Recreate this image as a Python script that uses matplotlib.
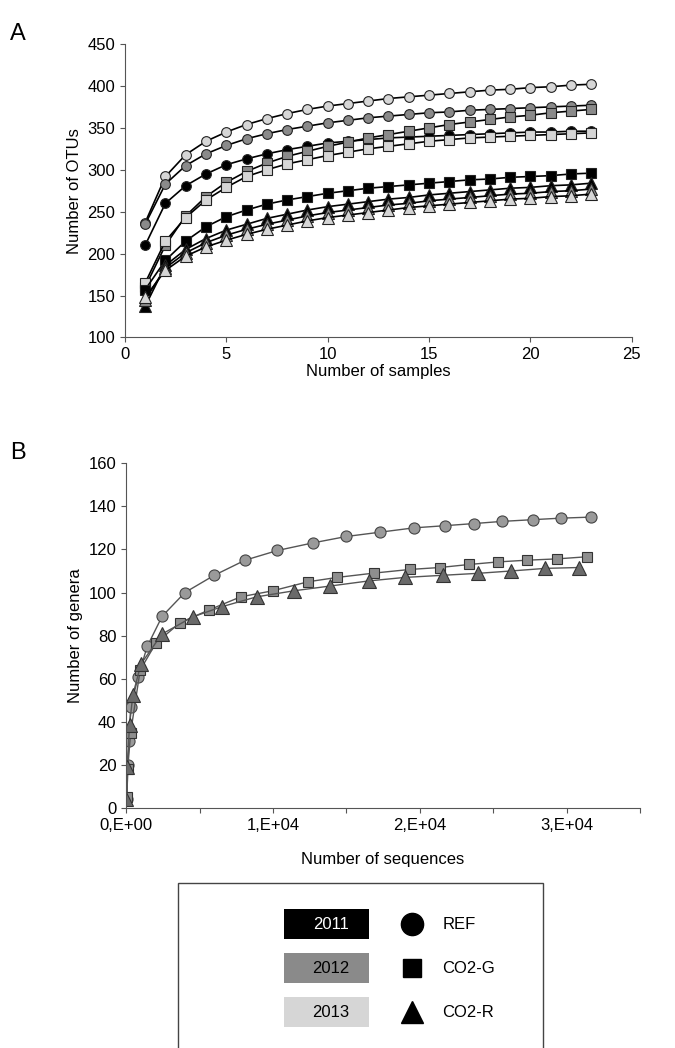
import matplotlib
matplotlib.use("Agg")
import matplotlib.pyplot as plt
from matplotlib.patches import Rectangle
plt.rcParams['font.family'] = ['Liberation Sans', 'DejaVu Sans']

samples = list(range(1, 24))
ref_2013 = [237,292,318,334,345,354,361,367,372,376,379,382,385,387,389,391,393,395,396,398,399,401,402]
ref_2012 = [235,283,305,319,329,337,343,348,352,356,359,362,364,366,368,369,371,372,373,374,375,376,377]
ref_2011 = [210,260,281,295,306,313,319,324,328,332,334,336,338,339,340,341,342,343,344,345,345,346,346]
co2g_2012 = [160,210,245,268,285,298,308,316,322,328,333,338,342,346,350,354,357,360,363,365,368,370,372]
co2g_2013 = [165,215,243,264,279,292,300,307,312,317,321,325,328,331,334,336,338,339,340,341,342,343,344]
co2g_2011 = [157,192,215,232,244,252,259,264,268,272,275,278,280,282,284,286,288,289,291,292,293,295,296]
co2r_2011 = [137,186,205,218,228,235,242,247,252,256,259,262,265,267,270,272,274,276,278,279,281,282,284]
co2r_2012 = [145,183,201,213,222,229,235,240,245,249,252,255,258,260,263,265,267,269,271,272,274,275,277]
co2r_2013 = [148,180,197,208,216,223,229,234,239,243,246,249,252,255,257,259,261,263,265,266,268,269,271]

gen_ref_x = [50,100,200,300,820,1430,2450,4000,6000,8100,10300,12700,15000,17300,19600,21700,23700,25600,27700,29600,31700]
gen_ref_y = [4,20,31,47,61,75,89,100,108,115,119.5,123,126,128,130,131,132,133,133.8,134.5,135]
gen_g_x = [50,100,300,950,2020,3670,5670,7800,9980,12400,14370,16870,19320,21360,23360,25330,27300,29340,31410]
gen_g_y = [5,18,35,64,76.5,86,92,98,100.8,105,107,109,110.7,111.6,113,114.2,115,115.6,116.6]
gen_r_x = [10,60,226,450,1000,2430,4540,6510,8890,11430,13880,16550,18980,21590,23970,26240,28550,30840]
gen_r_y = [4,19,38.5,52.4,66.8,80.7,88.7,93.4,98,100.8,103,105.4,107,108,108.9,110,111.2,111.6]

years = ["2011", "2012", "2013"]
year_colors = ["#000000", "#8a8a8a", "#d6d6d6"]
treatments = ["REF", "CO2-G", "CO2-R"]

fig = plt.figure(figsize=(6.75, 10.48), dpi=100)

axA = fig.add_axes([0.185, 0.678, 0.751, 0.280])
seriesA = [
    (ref_2013, "o", year_colors[2]), (ref_2012, "o", year_colors[1]), (ref_2011, "o", year_colors[0]),
    (co2g_2012, "s", year_colors[1]), (co2g_2013, "s", year_colors[2]), (co2g_2011, "s", year_colors[0]),
    (co2r_2011, "^", year_colors[0]), (co2r_2012, "^", year_colors[1]), (co2r_2013, "^", year_colors[2]),
]
for ys, m, c in seriesA:
    ms = 8 if m == "^" else 7
    axA.plot(samples, ys, color="black", lw=1.2, marker=m, ms=ms, mfc=c, mec="#222222", mew=0.8)
axA.set_xlim(0, 25)
axA.set_ylim(100, 450)
axA.set_xticks([0, 5, 10, 15, 20, 25])
axA.set_yticks(range(100, 451, 50))
axA.set_xlabel("Number of samples", fontsize=12, labelpad=1)
axA.set_ylabel("Number of OTUs", fontsize=12)

axB = fig.add_axes([0.187, 0.229, 0.761, 0.329])
axB.plot(gen_ref_x, gen_ref_y, color="#555555", lw=1, marker="o", ms=8, mfc="#9a9a9a", mec="#444444", mew=0.8)
axB.plot(gen_g_x, gen_g_y, color="#555555", lw=1, marker="s", ms=6.5, mfc="#8e8e8e", mec="#333333", mew=0.8)
axB.plot(gen_r_x, gen_r_y, color="#555555", lw=1, marker="^", ms=10, mfc="#6a6a6a", mec="#333333", mew=0.8)
axB.set_xlim(0, 35000)
axB.set_ylim(0, 160)
axB.set_xticks([0, 5000, 10000, 15000, 20000, 25000, 30000, 35000])
axB.set_xticklabels(["0,E+00", "", "1,E+04", "", "2,E+04", "", "3,E+04", ""])
axB.set_yticks(range(0, 161, 20))
axB.set_xlabel("Number of sequences", fontsize=12, labelpad=14)
axB.set_ylabel("Number of genera", fontsize=12)

for ax in (axA, axB):
    for s in ("top", "right"):
        ax.spines[s].set_visible(False)
    ax.tick_params(labelsize=12, color="#555555")
    for s in ("left", "bottom"):
        ax.spines[s].set_color("#555555")

fig.text(0.015, 0.962, "A", fontsize=17)
fig.text(0.015, 0.562, "B", fontsize=17)

fig.patches.append(Rectangle((0.264, -0.01), 0.54, 0.167, transform=fig.transFigure,
                             fill=False, ec="#444444", lw=1))
rows_y = [0.118, 0.076, 0.034]
markers = ["o", "s", "^"]
for i in range(3):
    y = rows_y[i]
    fig.patches.append(Rectangle((0.42, y - 0.014), 0.127, 0.029, transform=fig.transFigure,
                                 fc=year_colors[i], ec="none"))
    fig.text(0.49, y, years[i], fontsize=12, ha="center", va="center",
             color="white" if i == 0 else "black")
    fig.lines.append(plt.Line2D([0.61], [y], transform=fig.transFigure, marker=markers[i],
                                ms=16 if i != 1 else 13, color="black", ls="none"))
    fig.text(0.655, y, treatments[i], fontsize=12, va="center")

fig.savefig("out.png", dpi=100)
